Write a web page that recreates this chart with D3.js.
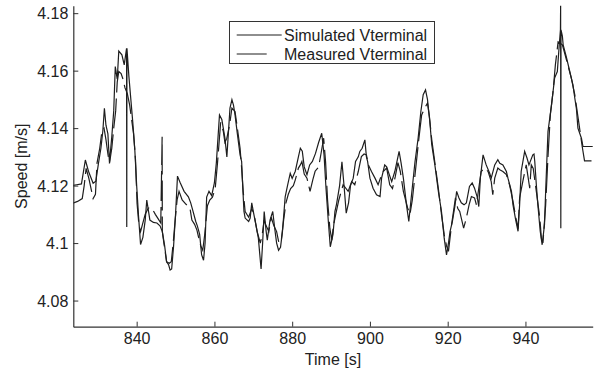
<!DOCTYPE html>
<html>
<head>
<meta charset="utf-8">
<script src="https://cdn.jsdelivr.net/npm/d3@7"></script>
<style>
  body { margin: 0; background: #fff; }
  text { font-family: Arial, "Liberation Sans", sans-serif; fill: #222; }
</style>
</head>
<body>
<svg id="svg"></svg>
<script>
// simulated (solid line)
var simTime = [823.4, 824.6, 825.8, 826.8, 827.6, 828.8, 829.5, 830.2, 830.8, 831.3, 831.7, 832.1, 832.6, 833.0, 833.6, 834.1, 834.5, 835.0, 835.4, 836.2, 836.8, 837.4, 837.45, 837.5, 838.0, 838.5, 839.0, 839.5, 840.0, 840.5, 841.0, 841.6, 842.2, 842.6, 843.4, 844.3, 845.2, 846.0, 846.6, 847.2, 847.7, 848.2, 848.6, 849.0, 849.5, 850.0, 850.5, 851.2, 852.2, 853.3, 853.9, 854.5, 855.2, 855.6, 856.2, 856.7, 857.2, 857.6,
  858.0, 858.6, 859.3, 860.0, 860.5, 861.3, 861.9, 862.7, 863.2, 864.0, 864.5, 864.9, 865.3, 865.9, 866.6, 867.0, 867.3, 867.6, 867.9, 868.8, 869.2, 869.6, 870.0, 870.5, 871.3, 872.0, 872.4, 872.8, 873.3, 873.6, 874.3, 875.0, 875.6, 876.0, 876.5, 877.0, 877.5, 878.2, 878.8, 879.5, 880.0, 880.8, 881.6, 882.1, 882.6, 883.1, 883.8, 884.5, 885.2, 886.0, 886.8, 887.6, 888.2, 888.7, 889.3, 889.8,
  890.5, 891.0, 891.4, 892.2, 892.8, 893.4, 893.9, 894.5, 895.0, 895.7, 896.3, 897.0, 897.4, 898.0, 898.7, 899.1, 899.4, 900.0, 900.8, 901.7, 902.6, 903.0, 903.8, 904.3, 904.7, 905.6, 906.4, 907.5, 908.0, 908.6, 909.4, 910.0, 910.7, 911.6, 912.4, 913.1, 913.7, 914.3, 914.8, 915.4, 915.9, 916.7, 917.6, 918.4, 919.1, 919.7, 920.2, 920.6, 921.2, 921.9, 922.3, 922.9, 923.5,
  924.2, 924.8, 925.6, 926.3, 926.9, 927.6, 928.0, 928.4, 929.1, 929.9, 930.8, 931.2, 932.1, 932.9, 933.4, 934.2, 935.1, 935.5, 936.4, 936.8, 937.5, 938.1, 938.5, 938.9, 939.8, 940.4, 940.9, 941.9, 942.2, 942.4, 942.8, 943.2, 943.8, 944.3, 944.9, 945.2, 945.8, 946.7, 947.5, 948.2, 948.7, 949.0, 949.05, 949.1, 949.15, 949.5, 949.7, 950.5, 951.4, 952.2, 952.7, 953.1, 953.5, 954.4, 954.8, 955.2, 957.7];
var simSpeed = [4.1200, 4.1203, 4.1206, 4.1289, 4.1250, 4.1208, 4.1215, 4.1280, 4.1330, 4.1390, 4.1469, 4.1410, 4.1380, 4.1280, 4.1370, 4.1460, 4.1614, 4.1570, 4.1668, 4.1655, 4.1620, 4.1678, 4.1056, 4.1678, 4.1580, 4.1500, 4.1420, 4.1330, 4.1200, 4.1090, 4.0995, 4.1020, 4.1080, 4.1150, 4.1080, 4.1072, 4.1070, 4.1060, 4.1040, 4.0990, 4.0935, 4.0925, 4.0906, 4.0910, 4.0990, 4.1100, 4.1233, 4.1210, 4.1180, 4.1161, 4.1140, 4.1110, 4.1075, 4.1060, 4.1030, 4.0960, 4.0940, 4.1000,
  4.1160, 4.1180, 4.1165, 4.1210, 4.1280, 4.1446, 4.1430, 4.1365, 4.1300, 4.1470, 4.1499, 4.1480, 4.1446, 4.1380, 4.1307, 4.1284, 4.1191, 4.1110, 4.1087, 4.1075, 4.1087, 4.1140, 4.1110, 4.1075, 4.1017, 4.0910, 4.1000, 4.1110, 4.1041, 4.1010, 4.1080, 4.1110, 4.1041, 4.1000, 4.0975, 4.0985, 4.1040, 4.1161, 4.1200, 4.1243, 4.1225, 4.1250, 4.1300, 4.1330, 4.1320, 4.1265, 4.1238, 4.1272, 4.1284, 4.1312, 4.1350, 4.1382, 4.1307, 4.1191, 4.1075, 4.0987,
  4.1030, 4.1110, 4.1135, 4.1200, 4.1283, 4.1190, 4.1104, 4.1140, 4.1200, 4.1226, 4.1284, 4.1300, 4.1319, 4.1330, 4.1359, 4.1300, 4.1284, 4.1226, 4.1191, 4.1168, 4.1162, 4.1226, 4.1272, 4.1265, 4.1249, 4.1214, 4.1249, 4.1319, 4.1280, 4.1226, 4.1133, 4.1075, 4.1168, 4.1284, 4.1365, 4.1458, 4.1516, 4.1533, 4.1500, 4.1423, 4.1342, 4.1272, 4.1180, 4.1110, 4.1017, 4.0959, 4.1000, 4.1040, 4.1075, 4.1133, 4.1180, 4.1157, 4.1140,
  4.1133, 4.1140, 4.1197, 4.1209, 4.1191, 4.1160, 4.1127, 4.1226, 4.1307, 4.1272, 4.1243, 4.1226, 4.1272, 4.1290, 4.1278, 4.1272, 4.1249, 4.1226, 4.1180, 4.1133, 4.1080, 4.1041, 4.1133, 4.1249, 4.1319, 4.1296, 4.1272, 4.1307, 4.1310, 4.1284, 4.1203, 4.1133, 4.1041, 4.0994, 4.1064, 4.1180, 4.1388, 4.1480, 4.1574, 4.1597, 4.1690, 4.1742, 4.1826, 4.1052, 4.1742, 4.1720, 4.1690, 4.1649, 4.1597, 4.1551, 4.1504, 4.1469, 4.1400, 4.1365, 4.1336, 4.1336, 4.1336];

// measured (dashed line)
var measTime = [823.4, 824.8, 826.0, 826.5, 827.0, 827.7, 828.8, 829.4, 829.8, 830.5, 831.1, 831.6, 832.1, 832.6, 833.0, 833.6, 834.1, 834.6, 835.0, 835.4, 836.0, 836.5, 837.0, 837.6, 838.2, 838.7, 839.2, 839.7, 840.1, 840.6, 841.0, 841.6, 842.2, 843.0, 843.9, 844.8, 845.5, 846.2, 846.55, 846.6, 847.0, 847.7, 848.4, 848.9, 849.4, 849.9, 850.4, 850.9, 851.7, 852.7, 853.7, 854.2, 854.9, 855.5, 855.9, 856.5, 857.0, 857.5,
  858.2, 858.8, 859.5, 860.2, 860.8, 861.6, 862.3, 862.7, 863.2, 863.9, 864.5, 865.3, 865.9, 866.6, 867.0, 867.4, 867.9, 868.8, 869.6, 870.2, 871.0, 871.8, 872.3, 872.8, 873.3, 874.0, 874.6, 875.3, 876.0, 876.6, 877.2, 877.8, 878.4, 879.0, 879.6, 880.3, 880.8, 881.6, 882.1, 882.5, 883.1, 883.8, 884.6, 885.3, 885.9, 886.8, 887.4, 888.1, 888.6, 889.1, 889.7, 890.2,
  890.6, 891.2, 892.0, 893.1, 894.4, 895.3, 896.1, 897.0, 897.8, 898.5, 899.1, 899.6, 900.4, 901.3, 902.1, 902.8, 903.4, 904.3, 905.1, 905.8, 906.5, 907.2, 907.8, 908.6, 909.7, 910.3, 910.9, 911.6, 912.6, 913.3, 914.1, 914.8, 915.3, 915.9, 916.7, 917.6, 918.4, 919.1, 919.7, 920.2, 921.0, 922.0, 922.6, 923.1,
  924.1, 924.8, 925.5, 926.1, 926.9, 927.4, 928.6, 929.5, 930.4, 931.2, 931.6, 932.1, 932.9, 933.4, 934.2, 935.1, 935.9, 936.8, 937.5, 938.1, 938.5, 939.4, 940.2, 941.1, 941.5, 942.0, 942.8, 943.7, 944.1, 944.5, 945.2, 945.8, 946.4, 947.1, 947.7, 948.4, 949.5, 950.1, 950.9, 951.8, 952.7, 953.5, 954.6, 955.2, 957.7];
var measSpeed = [4.1138, 4.1145, 4.1155, 4.1200, 4.1260, 4.1225, 4.1155, 4.1170, 4.1278, 4.1330, 4.1393, 4.1400, 4.1360, 4.1310, 4.1277, 4.1330, 4.1400, 4.1460, 4.1560, 4.1597, 4.1590, 4.1570, 4.1540, 4.1520, 4.1480, 4.1430, 4.1380, 4.1290, 4.1138, 4.1060, 4.1040, 4.1070, 4.1100, 4.1122, 4.1122, 4.1100, 4.1085, 4.1070, 4.1370, 4.1040, 4.1000, 4.0935, 4.0930, 4.0935, 4.1000, 4.1080, 4.1150, 4.1180, 4.1150, 4.1135, 4.1122, 4.1080, 4.1065, 4.1045, 4.1022, 4.0990, 4.0975, 4.1030,
  4.1130, 4.1150, 4.1160, 4.1190, 4.1280, 4.1420, 4.1388, 4.1350, 4.1365, 4.1411, 4.1470, 4.1458, 4.1400, 4.1330, 4.1260, 4.1180, 4.1110, 4.1090, 4.1120, 4.1100, 4.1040, 4.1000, 4.1030, 4.1080, 4.1060, 4.1040, 4.1090, 4.1060, 4.1040, 4.1000, 4.1010, 4.1080, 4.1140, 4.1170, 4.1190, 4.1200, 4.1220, 4.1261, 4.1272, 4.1284, 4.1240, 4.1226, 4.1180, 4.1220, 4.1250, 4.1265, 4.1310, 4.1365, 4.1280, 4.1150, 4.1050, 4.1010,
  4.1060, 4.1100, 4.1150, 4.1203, 4.1180, 4.1214, 4.1203, 4.1249, 4.1301, 4.1310, 4.1307, 4.1272, 4.1249, 4.1226, 4.1203, 4.1230, 4.1249, 4.1261, 4.1203, 4.1190, 4.1230, 4.1280, 4.1250, 4.1180, 4.1122, 4.1100, 4.1150, 4.1238, 4.1365, 4.1446, 4.1470, 4.1487, 4.1440, 4.1360, 4.1280, 4.1190, 4.1100, 4.1030, 4.0990, 4.0971, 4.1064, 4.1157, 4.1120, 4.1110,
  4.1052, 4.1087, 4.1133, 4.1162, 4.1157, 4.1133, 4.1249, 4.1261, 4.1249, 4.1214, 4.1168, 4.1226, 4.1261, 4.1255, 4.1249, 4.1238, 4.1203, 4.1145, 4.1090, 4.1050, 4.1157, 4.1220, 4.1272, 4.1191, 4.1272, 4.1260, 4.1180, 4.1087, 4.1017, 4.1000, 4.1133, 4.1301, 4.1446, 4.1527, 4.1620, 4.1700, 4.1690, 4.1660, 4.1620, 4.1574, 4.1516, 4.1440, 4.1336, 4.1286, 4.1286];

var xTicks = [840, 860, 880, 900, 920, 940];
var yTicks = [4.08, 4.1, 4.12, 4.14, 4.16, 4.18];
var legendLabels = ["Simulated Vterminal", "Measured Vterminal"];

var width = 595, height = 373;
var plot = {left: 73.3, right: 592.7, top: 5.7, bottom: 326.7};
var lineColor = "#1e1e1e";
var dash = "30,6";

function chart_initialize() {
    svg = d3.select("#svg").attr("width", width).attr("height", height);
    svg.selectAll("*").remove();

    xScale = d3.scaleLinear().domain([823.7, 957.3]).range([plot.left, plot.right]);
    yScale = d3.scaleLinear().domain([4.0709, 4.1826]).range([plot.bottom, plot.top]);

    svg.append("defs")
        .append("clipPath")
        .attr("id", "clip")
        .append("rect")
        .attr("x", plot.left)
        .attr("y", plot.top - 1)
        .attr("width", plot.right - plot.left)
        .attr("height", plot.bottom - plot.top + 1);

    container = svg.append("g").attr("clip-path", "url(#clip)");
}

function chart_update() {
    var line = d3.line().x(d => xScale(d[0])).y(d => yScale(d[1]));
    var sim = simTime.map((t, i) => [t, simSpeed[i]]);
    var meas = measTime.map((t, i) => [t, measSpeed[i]]);

    container.append("path")
        .datum(meas)
        .attr("d", line)
        .attr("fill", "none")
        .attr("stroke", lineColor)
        .attr("stroke-width", 1.2)
        .attr("stroke-dasharray", dash);

    container.append("path")
        .datum(sim)
        .attr("d", line)
        .attr("fill", "none")
        .attr("stroke", lineColor)
        .attr("stroke-width", 1.2);

    // axes, ticks pointing inward
    var xAxis = svg.append("g")
        .attr("transform", `translate(0, ${plot.bottom})`)
        .call(d3.axisTop(xScale).tickValues(xTicks).tickSize(5).tickSizeOuter(0).tickFormat(d3.format("d")));
    xAxis.selectAll("text").remove();
    xAxis.selectAll(".tick").append("text")
        .attr("y", 17.8)
        .attr("text-anchor", "middle")
        .style("font-size", "16px")
        .text(d => d);

    var yAxis = svg.append("g")
        .attr("transform", `translate(${plot.left}, 0)`)
        .call(d3.axisRight(yScale).tickValues(yTicks).tickSize(5).tickSizeOuter(0));
    yAxis.selectAll("text").remove();
    yAxis.selectAll(".tick").append("text")
        .attr("x", -5)
        .attr("y", 5.8)
        .attr("text-anchor", "end")
        .style("font-size", "16px")
        .text(d => d3.format("")(+d.toFixed(2)));

    svg.selectAll(".domain").attr("stroke", "#333").attr("stroke-width", 1.2);
    svg.selectAll(".tick line").attr("stroke", "#333");

    svg.append("text")
        .attr("x", (plot.left + plot.right) / 2)
        .attr("y", 364.8)
        .attr("text-anchor", "middle")
        .style("font-size", "16px")
        .text("Time [s]");

    svg.append("text")
        .attr("transform", `translate(26.7, ${(plot.top + plot.bottom) / 2}) rotate(-90)`)
        .attr("text-anchor", "middle")
        .style("font-size", "16px")
        .text("Speed [m/s]");

    // legend
    var legend = svg.append("g");
    legend.append("rect")
        .attr("x", 229.5).attr("y", 21.5)
        .attr("width", 205).attr("height", 42)
        .attr("fill", "#fff")
        .attr("stroke", "#333")
        .attr("stroke-width", 1);
    var rows = [35, 54];
    legendLabels.forEach((label, i) => {
        legend.append("line")
            .attr("x1", 236.7).attr("x2", i == 0 ? 281.7 : 272.7)
            .attr("y1", rows[i]).attr("y2", rows[i])
            .attr("stroke", lineColor)
            .attr("stroke-width", 1.2)
            .attr("stroke-dasharray", i == 0 ? null : dash);
        legend.append("text")
            .attr("x", 284)
            .attr("y", rows[i] + 5.8)
            .style("font-size", "16px")
            .text(label);
    });
}

chart_initialize();
chart_update();
</script>
</body>
</html>
